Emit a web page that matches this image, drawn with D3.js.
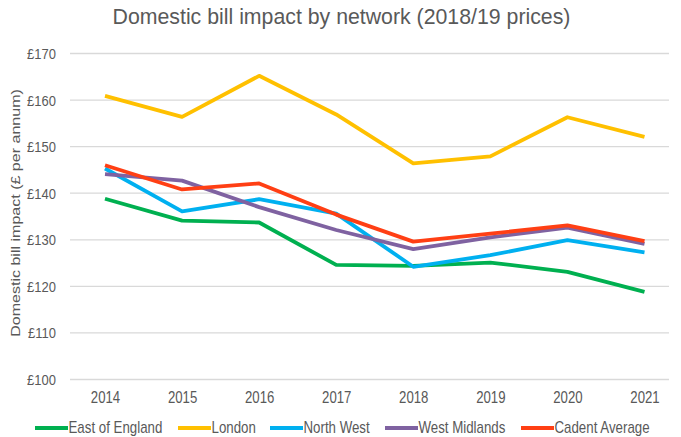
<!DOCTYPE html>
<html>
<head>
<meta charset="utf-8">
<script src="https://cdn.jsdelivr.net/npm/d3@7/dist/d3.min.js"></script>
<style>
  html, body { margin: 0; padding: 0; background: #fff; }
  svg { display: block; font-family: "Liberation Sans", Arial, sans-serif; }
</style>
</head>
<body>
<svg id="chart" width="681" height="437"></svg>
<script>
// Years on the category axis
const years = ["2014", "2015", "2016", "2017", "2018", "2019", "2020", "2021"];

// Domestic bill impact (£ per annum, 2018/19 prices) per network
const eastOfEngland = [138.7, 134.0, 133.6, 124.5, 124.3, 125.0, 123.0, 118.7];
const london        = [160.8, 156.3, 165.1, 156.8, 146.3, 147.8, 156.2, 152.0];
const northWest     = [145.2, 136.0, 138.6, 135.5, 124.1, 126.6, 129.8, 127.2];
const westMidlands  = [144.0, 142.6, 136.9, 132.0, 127.9, 130.4, 132.5, 129.0];
const cadentAverage = [145.9, 140.7, 142.0, 135.3, 129.5, 131.2, 133.0, 129.6];

const seriesNames  = ["East of England", "London", "North West", "West Midlands", "Cadent Average"];
const seriesColors = ["#00b050", "#ffc000", "#00b0f0", "#7f62a1", "#ff3f14"];
const seriesValues = [eastOfEngland, london, northWest, westMidlands, cadentAverage];

// Value axis ticks
const yTicks = [100, 110, 120, 130, 140, 150, 160, 170];

const svg = d3.select("#chart");
const textColor = "#595959";
const stretch = 1.18;   // glyphs are drawn slightly taller than wide

const plot = { left: 70, right: 669, top: 53, bottom: 379 };

const x = d3.scalePoint()
  .domain(years)
  .range([105, 644.5]);

const y = d3.scaleLinear()
  .domain([100, 170])
  .range([plot.bottom, plot.top]);

// Title
svg.append("text")
  .attr("transform", `translate(341.5,23.5) scale(1,1.05)`)
  .attr("text-anchor", "middle")
  .attr("fill", textColor)
  .attr("font-size", 21.3)
  .text("Domestic bill impact by network (2018/19 prices)");

// Horizontal gridlines
svg.append("g")
  .selectAll("line")
  .data(yTicks)
  .join("line")
  .attr("x1", plot.left)
  .attr("x2", plot.right)
  .attr("y1", d => y(d) + 0.5)
  .attr("y2", d => y(d) + 0.5)
  .attr("stroke", "#d9d9d9")
  .attr("stroke-width", 1.3);

// Y axis labels
const yAxis = svg.append("g")
  .attr("transform", `translate(${plot.left - 14},0)`)
  .call(d3.axisLeft(y).tickValues(yTicks).tickSize(0).tickPadding(0).tickFormat(d => "£" + d));
yAxis.select(".domain").remove();
yAxis.selectAll("text")
  .attr("fill", textColor)
  .attr("font-size", 13)
  .attr("dy", "0.36em")
  .attr("transform", `scale(1,${stretch})`)
  .attr("font-family", "Liberation Sans, Arial, sans-serif");

// X axis labels
const xAxis = svg.append("g")
  .attr("transform", `translate(0,${plot.bottom + 24})`)
  .call(d3.axisBottom(x).tickSize(0).tickPadding(0));
xAxis.select(".domain").remove();
xAxis.selectAll("text")
  .attr("fill", textColor)
  .attr("font-size", 13.2)
  .attr("y", 0)
  .attr("dy", 0)
  .attr("transform", `scale(1,${stretch})`)
  .attr("font-family", "Liberation Sans, Arial, sans-serif");

// Y axis title
svg.append("text")
  .attr("transform", `translate(20,213) scale(1,${stretch}) rotate(-90)`)
  .attr("text-anchor", "middle")
  .attr("fill", textColor)
  .attr("font-size", 13.6)
  .text("Domestic bill impact (£ per annum)");

// Series lines
const line = d3.line()
  .x((d, i) => x(years[i]))
  .y(d => y(d));

svg.append("g")
  .selectAll("path")
  .data(seriesValues)
  .join("path")
  .attr("d", d => line(d))
  .attr("fill", "none")
  .attr("stroke", (d, i) => seriesColors[i])
  .attr("stroke-width", 3.8)
  .attr("stroke-linejoin", "round")
  .attr("stroke-linecap", "butt");

// Legend
const legendX = [35, 178, 270, 385, 521];
const legend = svg.append("g")
  .selectAll("g")
  .data(seriesNames)
  .join("g")
  .attr("transform", (d, i) => `translate(${legendX[i]},428)`);

legend.append("line")
  .attr("x1", 0)
  .attr("x2", 33)
  .attr("y1", 0)
  .attr("y2", 0)
  .attr("stroke", (d, i) => seriesColors[i])
  .attr("stroke-width", 4.2);

legend.append("text")
  .attr("transform", `translate(33.5,4.8) scale(1,${stretch})`)
  .attr("fill", textColor)
  .attr("font-size", 13.3)
  .text(d => d);
</script>
</body>
</html>
